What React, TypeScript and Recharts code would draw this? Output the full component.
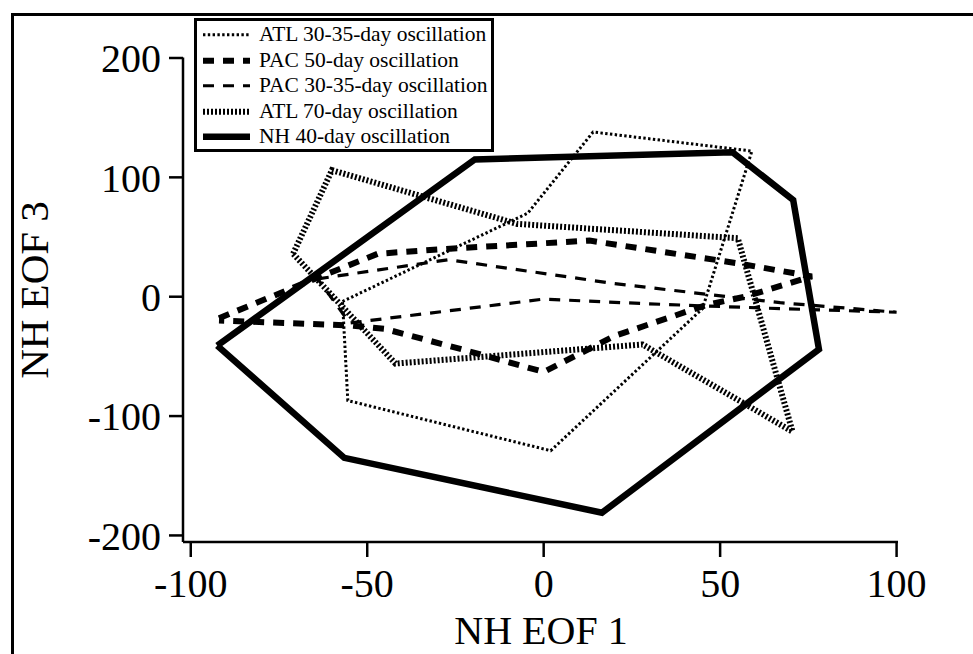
import React from 'react';
import { ScatterChart, Scatter, XAxis, YAxis, Legend, Label } from 'recharts';

const FONT = '"Liberation Serif", "Times New Roman", serif';

// Tick values
const X_TICKS = [-100, -50, 0, 50, 100];
const Y_TICKS = [-200, -100, 0, 100, 200];

// Series vertices (NH EOF 1, NH EOF 3), traced in drawing order
const ATL_30_35 = [
  [-57, -4], [-4.5, 70], [14, 138], [59, 122], [45, -10], [2, -129], [-55.5, -87], [-57, -4],
];
const PAC_50 = [
  [-92, -18], [-64, 16], [-47, 36], [-28, 40], [13, 47], [55, 28], [76, 17], [57, 0], [46, -7],
  [20, -33], [0, -63], [-22, -45], [-45, -27], [-55, -24], [-92, -20],
];
const PAC_30_35 = [
  [-64, 15], [-27, 31], [20, 11], [67, -5], [100, -13], [67, -10], [30, -6], [0, -2], [-55, -22], [-64, 15],
];
const ATL_70 = [
  [-71, 36], [-60, 106], [-7.5, 61], [55, 49], [70.5, -113], [28, -40], [-42, -56], [-71, 36],
];
const NH_40 = [
  [-92.5, -41], [-56.5, -135], [16.5, -181], [78, -44], [70.7, 81], [53.5, 121], [-19.5, 115], [-92.5, -41],
];

const SERIES_NAMES = [
  'ATL 30-35-day oscillation',
  'PAC 50-day oscillation',
  'PAC 30-35-day oscillation',
  'ATL 70-day oscillation',
  'NH 40-day oscillation',
];

const toPoints = (arr: number[][]) => arr.map(([x, y]) => ({ x, y }));

const STYLES: Record<string, any> = {
  'ATL 30-35-day oscillation': { stroke: '#000', strokeWidth: 3, strokeDasharray: '2.4 2.4' },
  'PAC 50-day oscillation': { stroke: '#000', strokeWidth: 6, strokeDasharray: '11 9' },
  'PAC 30-35-day oscillation': { stroke: '#000', strokeWidth: 3.2, strokeDasharray: '11 9' },
  'ATL 70-day oscillation': { stroke: '#000', strokeWidth: 6, strokeDasharray: '2 2' },
  'NH 40-day oscillation': { stroke: '#000', strokeWidth: 6.5 },
};

const SERIES_DATA: Record<string, number[][]> = {
  'ATL 30-35-day oscillation': ATL_30_35,
  'PAC 50-day oscillation': PAC_50,
  'PAC 30-35-day oscillation': PAC_30_35,
  'ATL 70-day oscillation': ATL_70,
  'NH 40-day oscillation': NH_40,
};

const noShape = () => <g />;

const renderLegend = () => (
  <div
    style={{
      boxSizing: 'border-box',
      width: 300,
      height: 134,
      border: '3px solid #000',
      background: '#fff',
      position: 'relative',
      fontFamily: FONT,
      fontSize: 21.5,
      color: '#000',
    }}
  >
    {SERIES_NAMES.map((name, i) => {
      const cy = 14 + i * 25.5;
      return (
        <div key={name} style={{ position: 'absolute', left: 0, top: cy - 12.75, height: 25.5, width: 294 }}>
          <svg width={58} height={25.5} style={{ position: 'absolute', left: 0, top: 0 }}>
            <line x1={6} x2={53} y1={12.75} y2={12.75} {...STYLES[name]} />
          </svg>
          <span
            style={{
              position: 'absolute',
              left: 62,
              top: 0,
              lineHeight: '25.5px',
              whiteSpace: 'nowrap',
            }}
          >
            {name}
          </span>
        </div>
      );
    })}
  </div>
);

const axisLineStyle = { stroke: '#000', strokeWidth: 2.5 };
const tickStyle = { fill: '#000', fontSize: 40, fontFamily: FONT };

export default function App() {
  return (
    <div style={{ position: 'absolute', left: 0, top: 0, width: 973, height: 654, background: '#fff' }}>
      <div
        style={{
          position: 'absolute',
          left: 11,
          top: 13,
          width: 990,
          height: 700,
          borderLeft: '3px solid #000',
          borderTop: '3px solid #000',
          boxSizing: 'border-box',
        }}
      />
      <ScatterChart width={973} height={654} margin={{ top: 57.4, right: 75, bottom: 0, left: 0 }}>
        <XAxis
          type="number"
          dataKey="x"
          domain={[-102.2, 100.4]}
          ticks={X_TICKS}
          allowDataOverflow
          height={112}
          tickSize={15}
          tickMargin={12}
          axisLine={axisLineStyle}
          tickLine={axisLineStyle}
          tick={tickStyle}
        >
          <Label
            content={() => (
              <text x={541} y={644} textAnchor="middle" fontFamily={FONT} fontSize={40} fill="#000">
                NH EOF 1
              </text>
            )}
          />
        </XAxis>
        <YAxis
          type="number"
          dataKey="y"
          domain={[-205.5, 200.5]}
          ticks={Y_TICKS}
          allowDataOverflow
          width={183}
          tickSize={14}
          tickMargin={8}
          axisLine={axisLineStyle}
          tickLine={axisLineStyle}
          tick={tickStyle}
        >
          <Label
            content={() => (
              <text
                x={48}
                y={290}
                transform="rotate(-90 48 290)"
                textAnchor="middle"
                fontFamily={FONT}
                fontSize={41}
                fill="#000"
              >
                NH EOF 3
              </text>
            )}
          />
        </YAxis>
        <Legend
          content={renderLegend}
          layout="vertical"
          align="center"
          verticalAlign="middle"
          wrapperStyle={{ left: 194, top: 18, width: 300, height: 134 }}
        />
        {SERIES_NAMES.map((name) => (
          <Scatter
            key={name}
            name={name}
            data={toPoints(SERIES_DATA[name])}
            fill="#000"
            shape={noShape}
            line={{ ...STYLES[name], fill: 'none', strokeLinejoin: 'miter' }}
            lineType="joint"
            isAnimationActive={false}
          />
        ))}
      </ScatterChart>
    </div>
  );
}
